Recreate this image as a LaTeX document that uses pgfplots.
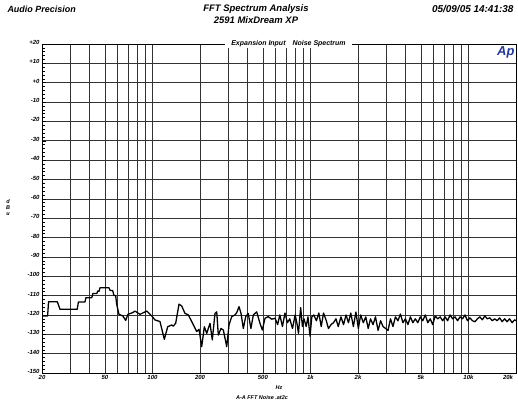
\documentclass[border=0pt]{standalone}
\usepackage{pgfplots}
\pgfplotsset{compat=1.18}
\usepackage{fontspec}
\setmainfont{Liberation Sans}
\definecolor{apblue}{RGB}{35,55,160}
\begin{document}
\begin{tikzpicture}
\useasboundingbox (0bp,0bp) rectangle (518bp,403bp);
\begin{axis}[
  at={(42bp,30bp)}, anchor=south west,
  scale only axis, width=474bp, height=329bp,
  xmode=log, log basis x=10,
  xmin=20, xmax=20000, ymin=-150, ymax=20,
  xtick={20,30,40,50,60,70,80,90,100,200,300,400,500,600,700,800,900,1000,2000,3000,4000,5000,6000,7000,8000,9000,10000,20000},
  xticklabels={20,,,50,,,,,100,200,,,500,,,,,1k,2k,,,5k,,,,,10k,\makebox[0pt][r]{20k\hspace{3bp}}},
  ytick={20,10,...,-150},
  yticklabels={+20,+10,+0,-10,-20,-30,-40,-50,-60,-70,-80,-90,-100,-110,-120,-130,-140,-150},
  minor y tick num=4,
  ytick pos=left,
  tick align=inside,
  major tick length=4.5bp, minor tick length=3bp,
  xtick style={draw=none},
  minor x tick style={draw=none},
  ymajorgrids, xmajorgrids,
  major grid style={black!80, line width=0.6pt},
  axis line style={black, line width=0.9pt},
  tick style={black, line width=0.5pt},
  ticklabel style={font=\fontsize{6}{7}\selectfont\bfseries\itshape},
  /pgf/number format/assume math mode=true,
  yticklabel style={xshift=1bp, yshift=1.5bp},
  xticklabel style={yshift=1bp},
  clip=true,
]
\addplot[black, line width=1.3pt, line join=round] coordinates {
(20,-120.5) (21.7,-120.5) (22,-113.2) (25,-113.2) (26,-117.1) (33.4,-117.1)
(34,-113.3) (37.4,-113.3) (37.9,-111.1) (41.3,-111.1) (42,-108.9) (44.5,-108.9)
(45,-107.7) (46,-107.7) (46.5,-106) (53.1,-106) (54,-107.4) (56,-107.4)
(57.1,-110) (58.5,-110) (59.4,-114.5) (61.4,-119.7) (64.9,-120.5) (67.7,-122.8)
(70,-119.7) (75,-118.8) (77.6,-118) (83.4,-119.7) (92,-118) (99,-120.5)
(103.8,-122.6) (111.6,-123.4) (118.9,-132.6) (124.9,-126.1) (132.4,-125.2)
(135.5,-125.8) (140.3,-124.3) (147.3,-114.4) (153.2,-115.4) (160.7,-119.2)
(168.7,-120) (177.2,-123.4) (190.6,-128.6) (197.1,-127.4) (205,-136.4)
(213,-126.1) (220.6,-129.5) (231.4,-124.3) (239.2,-132.9) (248.8,-119.2)
(255.2,-118.4) (261.2,-130.4) (271.6,-127) (281,-127.8) (295.2,-136.4)
(305.2,-125.2) (317.4,-120.9) (333.2,-120) (341.6,-118.8) (353.2,-115.7)
(363.6,-119.2) (376,-127) (389.2,-120.9) (404,-119.2) (420,-127) (435,-120)
(457,-118.4) (479,-124.3) (496,-127.8) (516,-121.7) (541,-120.9) (569,-122.2)
(597,-121.7) (620,-125) (640,-120) (665,-126) (690,-119) (715,-124) (740,-122)
(770,-127) (800,-120) (820,-124) (840,-129.5) (867,-116.2) (890,-126) (910,-122)
(940,-126) (965,-121) (994,-131) (1020,-121) (1050,-120) (1090,-123) (1130,-119)
(1170,-126) (1210,-119) (1260,-123) (1300,-127) (1350,-125) (1400,-124)
(1450,-122) (1500,-126) (1560,-121) (1620,-125) (1680,-120) (1740,-124)
(1800,-119) (1870,-126) (1940,-118.5) (2010,-127) (2080,-120) (2160,-124)
(2240,-121) (2320,-127) (2400,-122) (2490,-125) (2580,-121) (2680,-128)
(2780,-123) (2880,-126) (2990,-127) (3100,-128) (3210,-122) (3330,-126)
(3450,-121) (3580,-123) (3710,-119.5) (3850,-124) (3990,-122) (4140,-125)
(4290,-121) (4450,-124) (4610,-122) (4780,-124) (4960,-121) (5140,-123)
(5330,-120) (5530,-124) (5730,-122) (5940,-125) (6160,-120.5) (6390,-122)
(6620,-121) (6870,-123) (7120,-121) (7380,-123) (7650,-120) (7940,-122)
(8230,-121) (8530,-123) (8850,-121) (9170,-122) (9510,-120) (9860,-123)
(10220,-121.5) (10600,-123) (11000,-123.5) (11400,-122) (11800,-121)
(12250,-122.5) (12700,-120.5) (13150,-122) (13650,-121.5) (14150,-123)
(14650,-122) (15200,-123) (15750,-121.5) (16350,-123.5) (16950,-122)
(17550,-123.5) (18200,-122) (18900,-124) (19600,-122.5) (20000,-123)
};
\end{axis}
% header texts
\node[anchor=west, font=\fontsize{9}{10}\selectfont\bfseries\itshape] at (4bp,394bp) {Audio Precision};
\node[anchor=east, font=\fontsize{10}{11}\selectfont\bfseries\itshape] at (517bp,394bp) {05/09/05 14:41:38};
\node[font=\fontsize{9.5}{10}\selectfont\bfseries\itshape] at (256bp,394bp) {FFT Spectrum Analysis};
\node[font=\fontsize{9.5}{10}\selectfont\bfseries\itshape] at (256bp,383bp) {2591 MixDream XP};
\node[fill=white, inner xsep=6bp, inner ysep=1bp, font=\fontsize{7}{8}\selectfont\bfseries\itshape] at (288.5bp,359.5bp) {Expansion Input\hspace{7bp}Noise Spectrum};
\node[text=apblue, font=\fontsize{13}{14}\selectfont\bfseries\itshape, anchor=east] at (518bp,351bp) {Ap};
\node[font=\fontsize{5.5}{6}\selectfont\bfseries\itshape] at (8bp,201bp) {d};
\node[font=\fontsize{5.5}{6}\selectfont\bfseries\itshape] at (8bp,195bp) {B};
\node[font=\fontsize{5.5}{6}\selectfont\bfseries\itshape] at (8bp,189bp) {u};
\node[font=\fontsize{5.5}{6}\selectfont\bfseries\itshape] at (279bp,15bp) {Hz};
\node[font=\fontsize{5.5}{6}\selectfont\bfseries\itshape] at (262bp,5bp) {A-A FFT Noise .at2c};
\end{tikzpicture}
\end{document}
